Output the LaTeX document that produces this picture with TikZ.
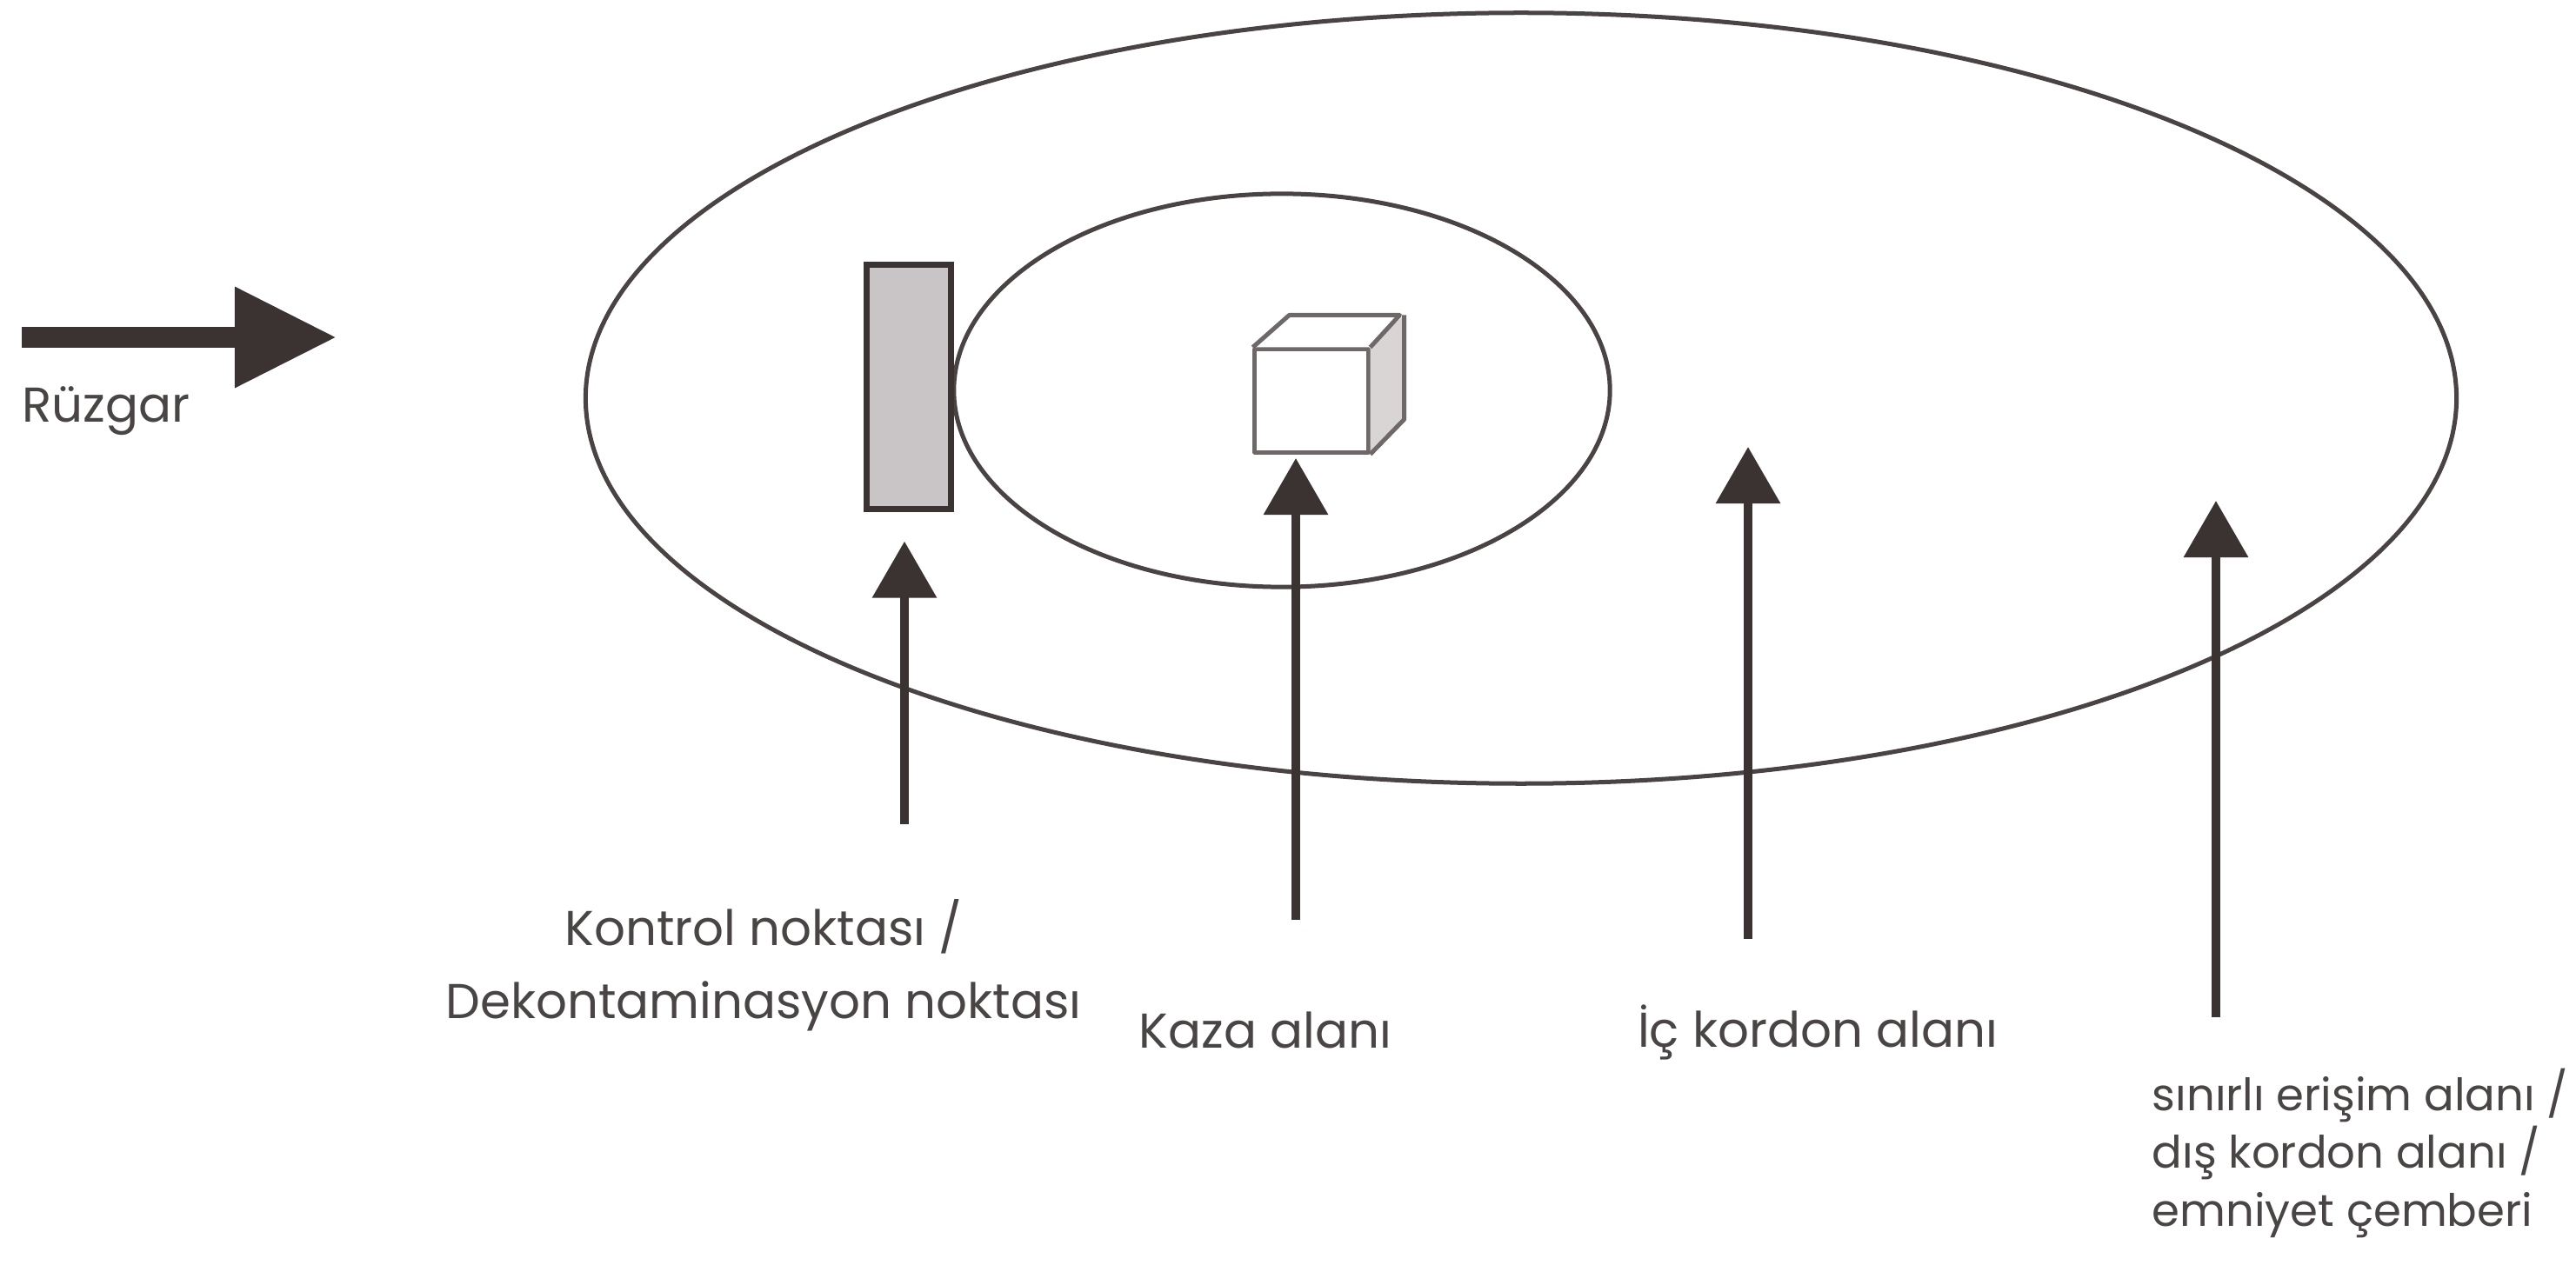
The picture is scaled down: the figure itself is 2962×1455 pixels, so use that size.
\documentclass[tikz,border=0pt]{standalone}
\usepackage{fontspec}
\setmainfont{Poppins}
\usetikzlibrary{arrows.meta}
\definecolor{ink}{HTML}{3B3232}
\definecolor{ringc}{HTML}{4A4343}
\definecolor{txt}{HTML}{4A4545}
\definecolor{boxfill}{HTML}{C9C4C5}
\definecolor{cubeedge}{HTML}{6E6868}
\definecolor{cubeside}{HTML}{D9D5D5}
\tikzset{
  ring/.style={draw=ringc, line width=0.05cm},
  uparrow/.style={draw=ink, line width=0.1cm, -{Triangle[length=0.65cm, width=0.72cm]}},
  windarrow/.style={draw=ink, line width=0.23cm, -{Triangle[length=1.17cm, width=1.10cm]}},
  lbl/.style={text=txt, font=\fontsize{16}{24}\selectfont, inner sep=0pt},
  cubeline/.style={draw=cubeedge, line width=0.05cm, line join=round}
}
\begin{document}
\begin{tikzpicture}[x=0.01cm, y=-0.01cm]
\useasboundingbox[fill=white] (0,0) rectangle (2962,1455);
% zones
\draw[ring] (1749,458) ellipse [x radius=10.75cm, y radius=4.43cm];
\draw[ring] (1474,449) ellipse [x radius=3.77cm, y radius=2.26cm];
% control / decontamination point
\node[draw=ink, fill=boxfill, line width=0.07cm, minimum width=0.96cm, minimum height=2.8cm, inner sep=0pt] (cp) at (1045,445) {};
% accident site (cube)
\node[cubeline, fill=white, minimum width=1.3cm, minimum height=1.18cm, inner sep=0pt] (cube) at (1508,461) {};
\fill[white] (cube.north west) -- ++(42,-37) -- ++(127,0) -- (cube.north east) -- cycle;
\fill[cubeside] (cube.north east) -- ++(39,-37) -- ++(0,120) -- (cube.south east) -- cycle;
\draw[cubeline] (cube.north west) -- ++(42,-37) -- ++(127,0) -- (cube.north east);
\draw[cubeline] ([shift={(39,-37)}]cube.north east) -- ++(0,120) -- (cube.south east);
% wind
\coordinate (ws) at (25,388);
\coordinate (we) at (387,388);
\draw[windarrow] (ws) -- (we);
\node[lbl, anchor=west] (wind) at (25,473) {Rüzgar};
% pointer arrows
\coordinate (a1s) at (1040,948);
\coordinate (a2s) at (1490,1058);
\coordinate (a2t) at (1490,527);
\coordinate (a3s) at (2010,1080);
\coordinate (a3t) at (2010,514);
\coordinate (a4s) at (2548,1170);
\coordinate (a4t) at (2548,576);
\draw[uparrow] (a1s) -- ([yshift=-0.34cm]cp.south -| a1s);
\draw[uparrow] (a2s) -- (a2t);
\draw[uparrow] (a3s) -- (a3t);
\draw[uparrow] (a4s) -- (a4t);
% labels
\node[lbl, align=center] (l1) at (878,1110) {Kontrol noktası /\\Dekontaminasyon noktası};
\node[lbl] (l2) at (1455,1185) {Kaza alanı};
\node[lbl] (l3) at (2090,1187) {İç kordon alanı};
\node[lbl, align=left, anchor=north west, font=\fontsize{14.6}{19}\selectfont] (l4) at (2474,1228) {sınırlı erişim alanı /\\dış kordon alanı /\\emniyet çemberi};
\end{tikzpicture}
\end{document}
